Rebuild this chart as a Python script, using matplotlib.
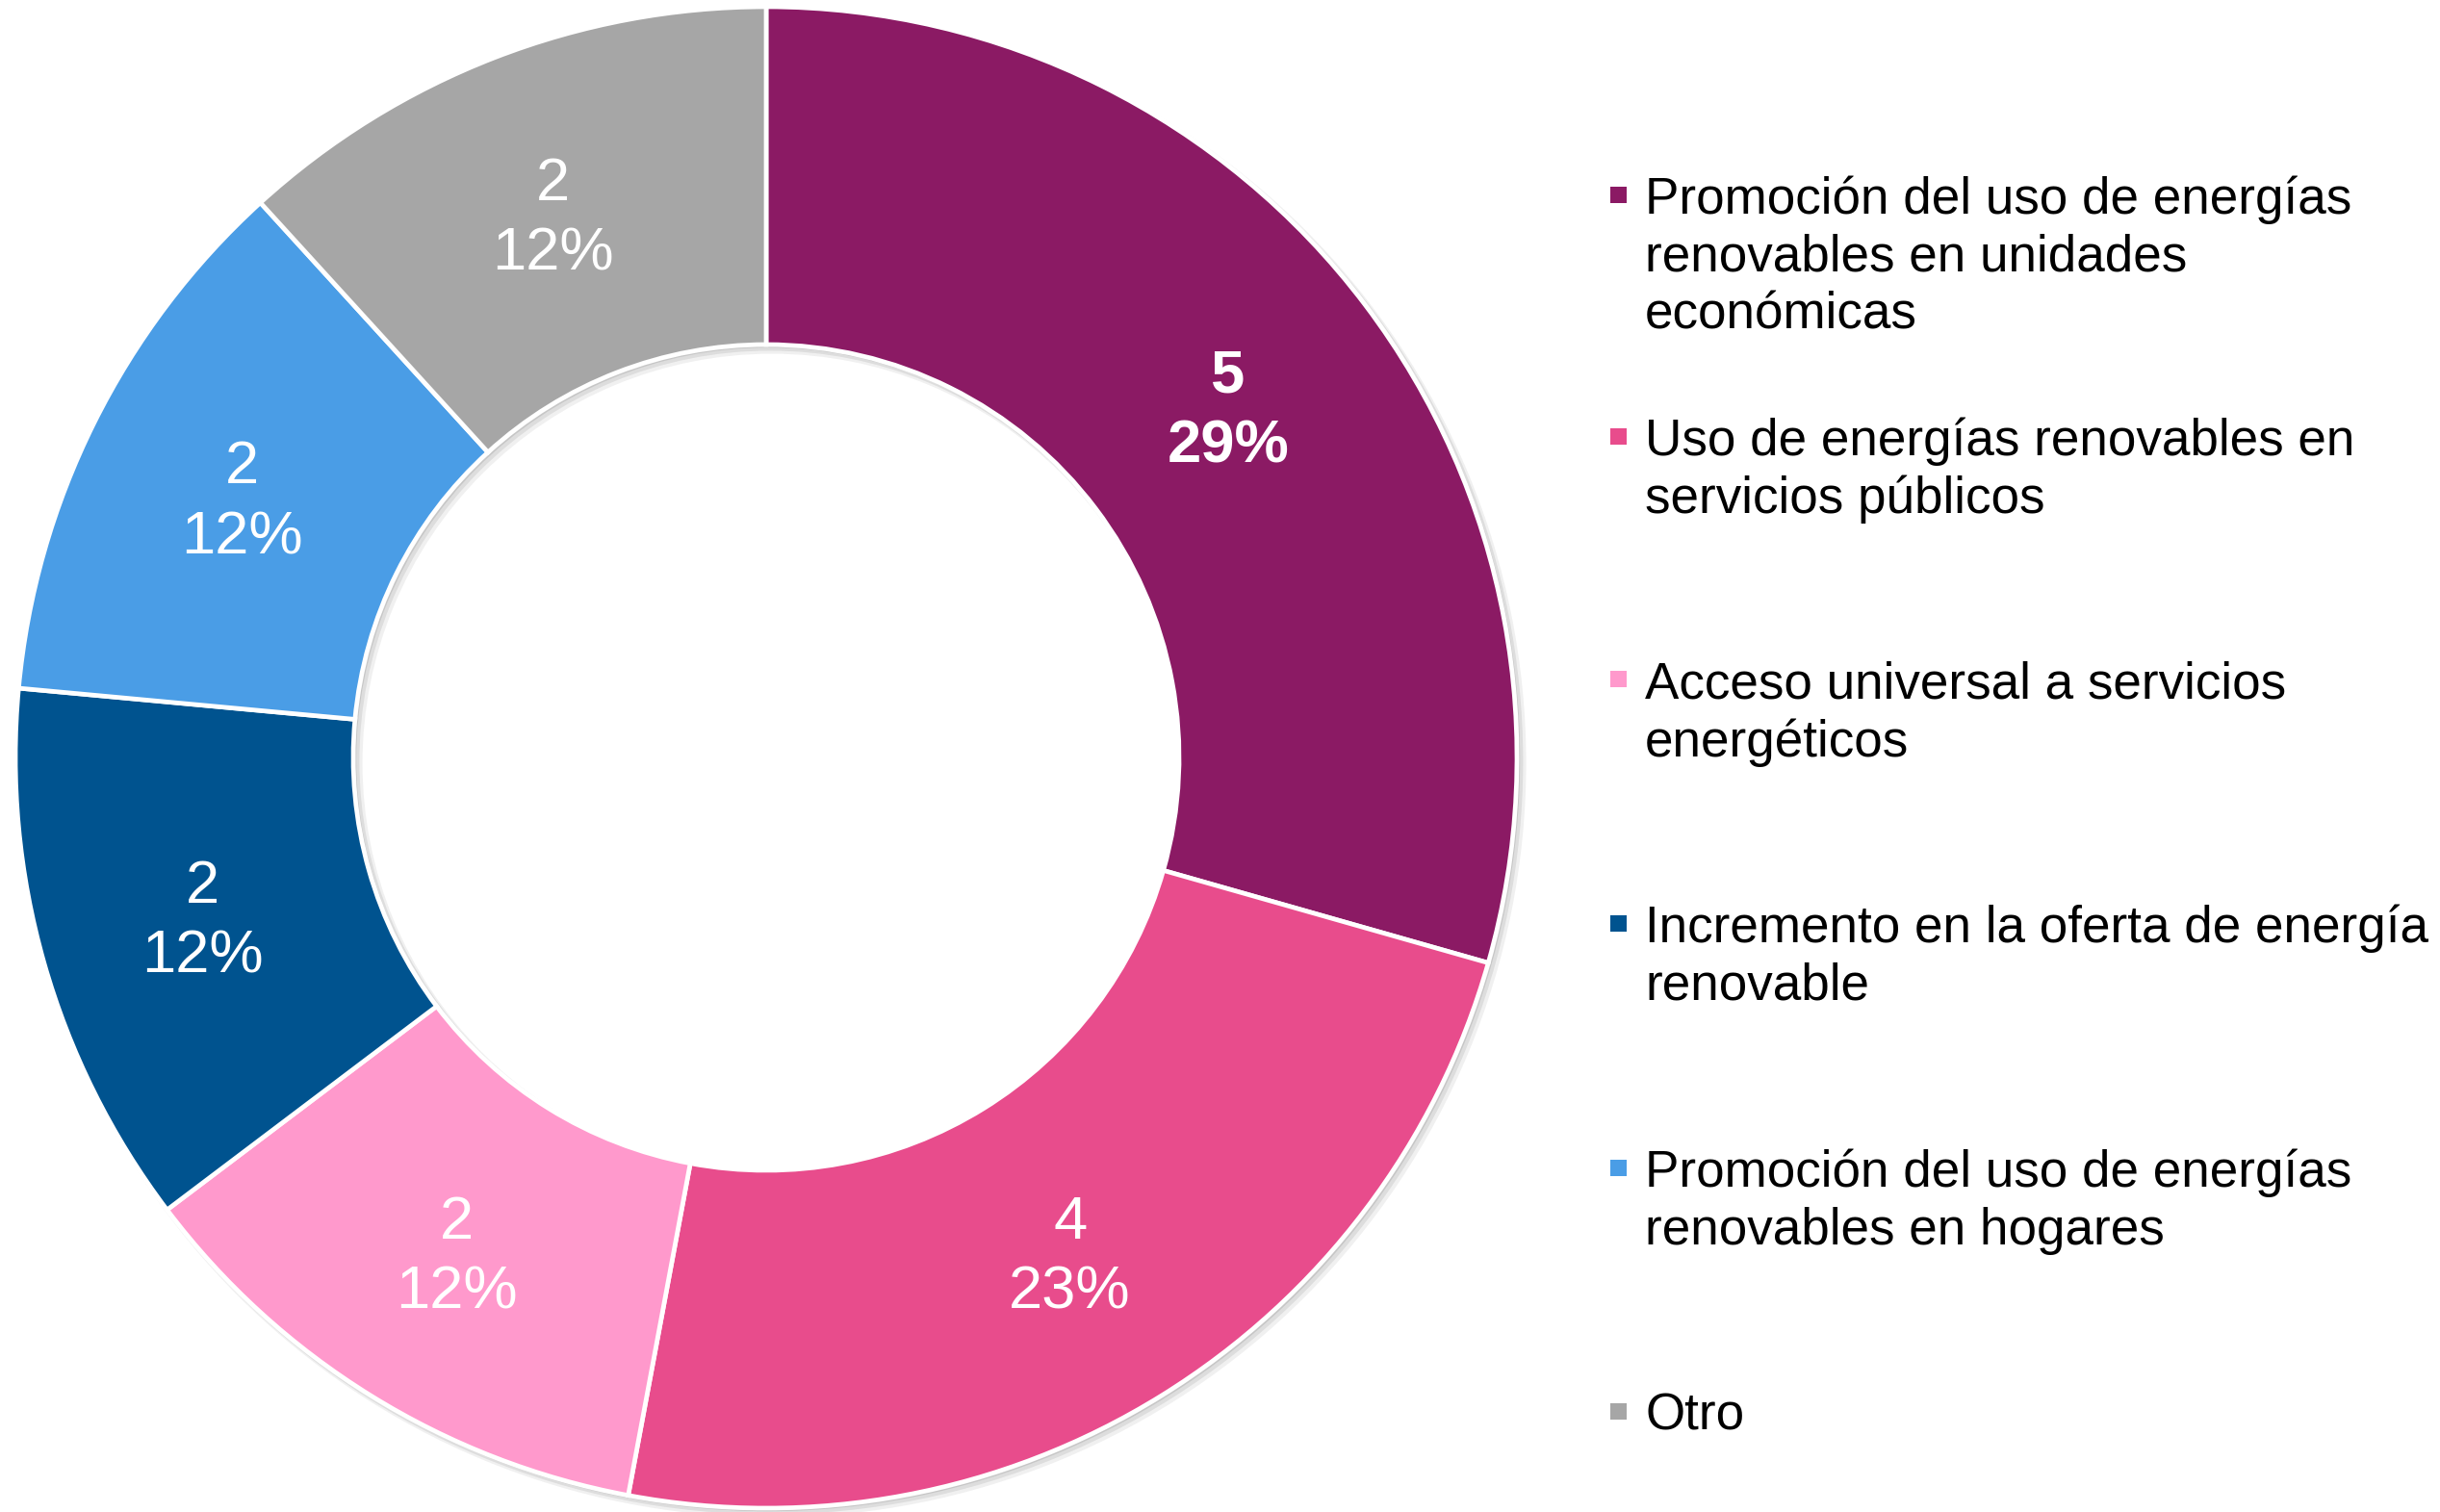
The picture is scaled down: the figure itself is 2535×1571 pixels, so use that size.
import numpy as np
import matplotlib
matplotlib.use("Agg")
import matplotlib.pyplot as plt
from matplotlib.patches import Rectangle
from matplotlib.transforms import offset_copy

categories = [
    "Promoción del uso de energías\nrenovables en unidades\neconómicas",
    "Uso de energías renovables en\nservicios públicos",
    "Acceso universal a servicios\nenergéticos",
    "Incremento en la oferta de energía\nrenovable",
    "Promoción del uso de energías\nrenovables en hogares",
    "Otro",
]
values = [5, 4, 2, 2, 2, 2]
percents = [29, 23, 12, 12, 12, 12]
colors = ["#8B1A64", "#E84C8C", "#FF99CC", "#00538F", "#4A9DE6", "#A6A6A6"]
bold_label = [True, False, False, False, False, False]

plt.rcParams['font.family'] = ['Liberation Sans', 'DejaVu Sans']

W, H, DPI = 2535, 1571, 100
fig = plt.figure(figsize=(W / DPI, H / DPI), dpi=DPI)

cx, cy, R = 796, 787, 780
ax = fig.add_axes([(cx - R) / W, (H - cy - R) / H, 2 * R / W, 2 * R / H])

# soft drop shadow of the ring (decorative)
for k, a in [(3, 0.06), (2, 0.08), (1, 0.10)]:
    d = k * 2.0 / R
    ax.pie([1], colors=["#000000"], radius=1.0 + d * 0.6, center=(d, -d),
           wedgeprops=dict(width=0.45 + d * 1.2, alpha=a, linewidth=0))

wedges, _ = ax.pie(values, colors=colors, startangle=90, counterclock=False,
                   radius=1.0, wedgeprops=dict(width=0.45, edgecolor="white", linewidth=3.4))
ax.set_xlim(-1, 1)
ax.set_ylim(-1, 1)
ax.set_aspect("equal")
ax.axis("off")

r_lab = 0.776
tr = offset_copy(ax.transData, fig=fig, x=-3, y=-5, units="dots")
for w, v, p, b in zip(wedges, values, percents, bold_label):
    ang = np.deg2rad((w.theta1 + w.theta2) / 2)
    ax.text(r_lab * np.cos(ang), r_lab * np.sin(ang), f"{v}\n{p}%", transform=tr,
            ha="center", va="center", color="white", fontsize=45.5,
            fontweight="bold" if b else "normal", linespacing=1.3)

# legend
leg_y = [202, 453, 706, 959, 1213, 1466]
line_gap = 60
mx, tx, msz = 1681, 1709, 17
for cat, col, y in zip(categories, colors, leg_y):
    fig.patches.append(Rectangle(((mx - msz / 2) / W, (H - y - msz / 2) / H), msz / W, msz / H,
                                 transform=fig.transFigure, facecolor=col, edgecolor="none"))
    for i, line in enumerate(cat.split("\n")):
        fig.text(tx / W, (H - y - i * line_gap) / H, line, ha="left", va="center_baseline",
                 fontsize=38.2, color="black")

fig.savefig("out.png", dpi=DPI, facecolor="white")
